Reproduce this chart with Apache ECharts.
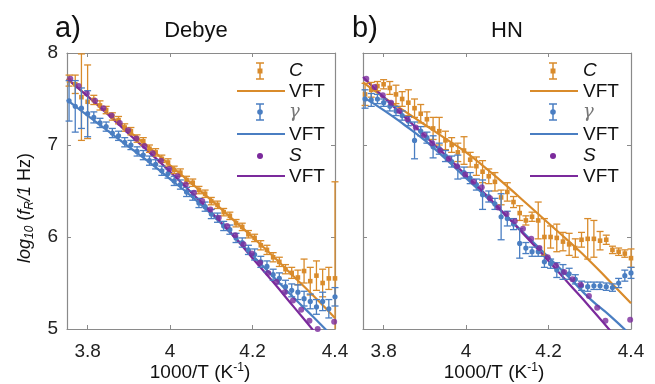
<!DOCTYPE html>
<html><head><meta charset="utf-8">
<script src="https://cdn.jsdelivr.net/npm/echarts@6/dist/echarts.min.js"></script>
<style>html,body{margin:0;padding:0;background:#fff}#c{width:655px;height:384px}</style>
</head><body><div id="c"></div>
<script>
// shared temperatures (1000/T) for C and gamma series
const cX = [3.755,3.770,3.785,3.800,3.815,3.830,3.845,3.860,3.875,3.890,3.905,3.920,3.935,3.950,3.965,3.980,3.995,4.010,4.025,4.040,4.055,4.070,4.085,4.100,4.115,4.130,4.145,4.160,4.175,4.190,4.205,4.220,4.235,4.250,4.265,4.280,4.295,4.310,4.325,4.340,4.355,4.370,4.385,4.400];
// S series temperatures
const sX = [3.758,3.778,3.798,3.818,3.838,3.858,3.878,3.898,3.918,3.938,3.958,3.978,3.998,4.018,4.038,4.058,4.078,4.098,4.118,4.138,4.158,4.178,4.198,4.218,4.238,4.258,4.278,4.298,4.318,4.338,4.358,4.378,4.398];
// VFT curve sample temperatures
const vX = [3.75,3.80,3.85,3.90,3.95,4.00,4.05,4.10,4.15,4.20,4.25,4.30,4.35,4.40];

// Panel a (Debye)
const aC  = [7.70,7.66,7.52,7.47,7.49,7.43,7.38,7.31,7.27,7.19,7.15,7.07,7.04,6.96,6.92,6.85,6.81,6.73,6.70,6.62,6.59,6.51,6.47,6.39,6.35,6.27,6.23,6.15,6.11,6.03,5.99,5.91,5.86,5.78,5.73,5.65,5.61,5.56,5.63,5.52,5.58,5.50,5.55,5.55];
const aCe = [0.06,0.10,0.47,0.40,0.05,0.05,0.04,0.04,0.04,0.04,0.04,0.04,0.04,0.04,0.04,0.04,0.04,0.04,0.04,0.04,0.04,0.04,0.04,0.04,0.04,0.04,0.04,0.04,0.04,0.04,0.04,0.05,0.05,0.05,0.05,0.05,0.06,0.08,0.13,0.15,0.16,0.15,0.12,1.05];
const aG  = [7.48,7.42,7.40,7.34,7.30,7.24,7.20,7.13,7.10,7.03,7.00,6.93,6.89,6.83,6.79,6.72,6.69,6.61,6.57,6.49,6.45,6.37,6.33,6.25,6.21,6.12,6.08,5.99,5.94,5.86,5.81,5.73,5.68,5.59,5.55,5.46,5.42,5.40,5.33,5.30,5.24,5.30,5.22,5.35];
const aGe = [0.22,0.28,0.22,0.25,0.06,0.05,0.05,0.05,0.05,0.05,0.05,0.05,0.05,0.05,0.05,0.05,0.05,0.05,0.05,0.05,0.05,0.05,0.05,0.05,0.05,0.05,0.05,0.05,0.05,0.05,0.06,0.06,0.06,0.06,0.06,0.07,0.07,0.08,0.08,0.08,0.08,0.10,0.10,0.10];
const aS  = [7.72,7.64,7.56,7.48,7.40,7.32,7.24,7.16,7.07,6.99,6.91,6.83,6.74,6.66,6.57,6.48,6.39,6.30,6.21,6.12,6.02,5.92,5.82,5.72,5.61,5.51,5.40,5.31,5.21,5.09,5.00,null,5.08];
const aCv = [7.72,7.53,7.34,7.15,6.97,6.78,6.59,6.40,6.20,6.00,5.79,5.57,5.35,5.12];
const aGv = [7.49,7.32,7.15,6.98,6.81,6.63,6.45,6.25,6.03,5.80,5.57,5.34,5.12,4.89];
const aSv = [7.72,7.53,7.33,7.12,6.92,6.71,6.49,6.27,6.03,5.77,5.51,5.24,4.97,4.69];

// Panel b (HN)
const bC  = [7.55,7.60,7.64,7.66,7.62,7.55,7.50,7.46,7.40,7.34,7.28,7.18,7.15,7.05,7.00,6.92,6.94,6.84,6.77,6.71,6.66,6.60,6.43,6.49,6.38,6.26,6.18,6.22,6.18,6.00,6.00,5.99,5.95,5.92,5.88,5.97,5.98,5.98,5.96,5.97,5.86,5.84,5.82,5.77];
const bCe = [0.12,0.08,0.05,0.05,0.07,0.10,0.08,0.14,0.10,0.10,0.08,0.12,0.15,0.10,0.08,0.10,0.15,0.08,0.10,0.12,0.08,0.10,0.08,0.10,0.06,0.08,0.05,0.05,0.20,0.20,0.12,0.15,0.10,0.12,0.10,0.08,0.22,0.20,0.10,0.05,0.04,0.04,0.04,0.10];
const bG  = [7.50,7.49,7.50,7.46,7.42,7.37,7.32,7.26,7.05,7.15,7.08,6.98,6.96,6.88,6.82,6.76,6.70,6.64,6.57,6.46,6.44,6.36,6.22,6.20,6.14,5.93,5.88,5.84,5.84,5.73,5.71,5.64,5.62,5.60,5.54,5.47,5.46,5.47,5.47,5.46,5.45,5.50,5.58,5.61];
const bGe = [0.10,0.07,0.05,0.04,0.05,0.05,0.05,0.05,0.20,0.05,0.06,0.12,0.06,0.06,0.06,0.13,0.06,0.06,0.06,0.16,0.06,0.06,0.25,0.08,0.06,0.16,0.06,0.05,0.05,0.06,0.05,0.08,0.08,0.06,0.05,0.05,0.05,0.04,0.04,0.04,0.04,0.05,0.06,0.06];
const bS  = [7.72,7.63,7.54,7.46,7.37,7.28,7.19,7.11,7.02,6.94,6.85,6.77,6.68,6.60,6.54,6.42,6.32,6.25,6.17,6.09,5.98,5.88,5.78,5.69,5.62,5.54,5.48,5.36,5.23,5.09,4.99,null,5.10];
const bCv = [7.68,7.52,7.37,7.22,7.07,6.92,6.74,6.55,6.35,6.15,5.95,5.74,5.51,5.28];
const bGv = [7.52,7.38,7.22,7.05,6.85,6.64,6.43,6.22,6.00,5.78,5.56,5.33,5.14,4.93];
const bSv = [7.74,7.52,7.31,7.10,6.89,6.67,6.45,6.22,5.98,5.74,5.49,5.24,4.98,4.72];

const xTicks = [3.8, 4.0, 4.2, 4.4];

const OR = '#d98b2b', BL = '#4a7ec2', PU = '#7b2a9c';
const AX = '#8a8a8a';
const FONT = 'Liberation Sans, Arial, sans-serif';

const chart = echarts.init(document.getElementById('c'), null, {renderer: 'canvas'});

function errItem(color, mk) {
  return function (params, api) {
    const x = api.value(0), y = api.value(1), e = api.value(2);
    const cs = params.coordSys;
    const p = api.coord([x, y]);
    const t = api.coord([x, y + e]);
    const b = api.coord([x, y - e]);
    const yTop = cs.y, yBot = cs.y + cs.height;
    const st = {stroke: color, lineWidth: 1.3};
    const ch = [];
    const y1 = Math.max(t[1], yTop), y2 = Math.min(b[1], yBot);
    if (y2 > y1) ch.push({type: 'line', shape: {x1: p[0], y1: y1, x2: p[0], y2: y2}, style: st});
    const cw = 3.5;
    if (t[1] >= yTop && t[1] <= yBot) ch.push({type: 'line', shape: {x1: p[0] - cw, y1: t[1], x2: p[0] + cw, y2: t[1]}, style: st});
    if (b[1] <= yBot && b[1] >= yTop) ch.push({type: 'line', shape: {x1: p[0] - cw, y1: b[1], x2: p[0] + cw, y2: b[1]}, style: st});
    if (p[1] >= yTop && p[1] <= yBot) {
      if (mk === 'sq') ch.push({type: 'rect', shape: {x: p[0] - 2.3, y: p[1] - 2.3, width: 4.6, height: 4.6}, style: {fill: color}});
      else ch.push({type: 'circle', shape: {cx: p[0], cy: p[1], r: 2.6}, style: {fill: color}});
    }
    return {type: 'group', children: ch};
  };
}

function axisPair(gi) {
  const common = {
    type: 'value', gridIndex: gi, min: 3.75, max: 4.4,
    axisLine: {show: true, lineStyle: {color: AX, width: 1.2}},
    axisTick: {show: true, inside: true, length: 4, lineStyle: {color: AX}, customValues: xTicks},
    splitLine: {show: false}
  };
  return [
    Object.assign({}, common, {position: 'bottom',
      axisLabel: {show: true, customValues: xTicks, margin: 13, color: '#222', fontSize: 19, fontFamily: FONT,
        formatter: v => (Math.abs(v - 4) < 1e-9 ? '4' : v.toFixed(1))}}),
    Object.assign({}, common, {position: 'top', axisLabel: {show: false}})
  ];
}
function yPair(gi, labels) {
  const common = {
    type: 'value', gridIndex: gi, min: 5, max: 8, interval: 1,
    axisLine: {show: true, lineStyle: {color: AX, width: 1.2}},
    axisTick: {show: true, inside: true, length: 4, lineStyle: {color: AX}},
    splitLine: {show: false}
  };
  return [
    Object.assign({}, common, {position: 'left',
      axisLabel: {show: labels, margin: 9, color: '#222', fontSize: 19, fontFamily: FONT}}),
    Object.assign({}, common, {position: 'right', axisLabel: {show: false}})
  ];
}

function panelSeries(xi, yi, C, Ce, G, Ge, S, Cv, Gv, Sv) {
  const line = (vals, color) => ({
    type: 'line', xAxisIndex: xi, yAxisIndex: yi, smooth: true, showSymbol: false, clip: true,
    data: vX.map((x, i) => [x, vals[i]]), lineStyle: {color: color, width: 2.2}, z: 3, silent: true
  });
  return [
    line(Cv, OR), line(Gv, BL), line(Sv, PU),
    {type: 'custom', xAxisIndex: xi, yAxisIndex: yi, renderItem: errItem(OR, 'sq'),
      data: cX.map((x, i) => [x, C[i], Ce[i]]), z: 4, silent: true},
    {type: 'custom', xAxisIndex: xi, yAxisIndex: yi, renderItem: errItem(BL, 'ci'),
      data: cX.map((x, i) => [x, G[i], Ge[i]]), z: 5, silent: true},
    {type: 'scatter', xAxisIndex: xi, yAxisIndex: yi, symbol: 'circle', symbolSize: 6,
      itemStyle: {color: PU}, data: sX.map((x, i) => [x, S[i]]).filter(d => d[1] != null), z: 6, clip: true, silent: true}
  ];
}

function legend(xc, x1, x2, xt) {
  const g = [];
  const errIcon = (y, color, sq) => {
    g.push({type: 'line', shape: {x1: xc, y1: y - 8, x2: xc, y2: y + 8}, style: {stroke: color, lineWidth: 1.5}});
    g.push({type: 'line', shape: {x1: xc - 4, y1: y - 8, x2: xc + 4, y2: y - 8}, style: {stroke: color, lineWidth: 1.5}});
    g.push({type: 'line', shape: {x1: xc - 4, y1: y + 8, x2: xc + 4, y2: y + 8}, style: {stroke: color, lineWidth: 1.5}});
    if (sq) g.push({type: 'rect', shape: {x: xc - 2.5, y: y - 2.5, width: 5, height: 5}, style: {fill: color}});
    else g.push({type: 'circle', shape: {cx: xc, cy: y, r: 2.8}, style: {fill: color}});
  };
  const lineIcon = (y, color) => g.push({type: 'line', shape: {x1: x1, y1: y, x2: x2, y2: y}, style: {stroke: color, lineWidth: 2.2}});
  const txt = (y, s, style) => g.push({type: 'text', x: xt, y: y, style: Object.assign({text: s, fontSize: 19, fontFamily: FONT, fill: '#111', verticalAlign: 'middle', align: 'left'}, style || {})});
  errIcon(71, OR, true); txt(71, 'C', {fontStyle: 'italic'});
  lineIcon(91, OR); txt(92, 'VFT');
  errIcon(112, BL, false); txt(112, 'γ', {fontStyle: 'italic', fill: '#777', fontFamily: 'DejaVu Serif, serif', fontSize: 18});
  lineIcon(134, BL); txt(135, 'VFT');
  g.push({type: 'circle', shape: {cx: xc, cy: 156, r: 3}, style: {fill: PU}}); txt(156, 'S', {fontStyle: 'italic'});
  lineIcon(176, PU); txt(177, 'VFT');
  return g;
}

const xTitle = {
  text: '{n|1000/T (K}{s|-1}{n|)}', align: 'center', verticalAlign: 'middle',
  rich: {n: {fontSize: 19, fontFamily: FONT, fill: '#111'}, s: {fontSize: 12, fontFamily: FONT, fill: '#111', verticalAlign: 'top', padding: [0, 0, 10, 0]}}
};

const graphics = [].concat(
  [
    {type: 'text', x: 55, y: 29, style: {text: 'a)', fontSize: 29, fontFamily: FONT, fill: '#111', verticalAlign: 'middle'}},
    {type: 'text', x: 196, y: 31, style: {text: 'Debye', fontSize: 22, fontFamily: FONT, fill: '#111', align: 'center', verticalAlign: 'middle'}},
    {type: 'text', x: 352, y: 29, style: {text: 'b)', fontSize: 29, fontFamily: FONT, fill: '#111', verticalAlign: 'middle'}},
    {type: 'text', x: 507, y: 31, style: {text: 'HN', fontSize: 22, fontFamily: FONT, fill: '#111', align: 'center', verticalAlign: 'middle'}},
    {type: 'text', x: 200, y: 373, style: Object.assign({}, xTitle)},
    {type: 'text', x: 494, y: 373, style: Object.assign({}, xTitle)},
    {type: 'text', x: 25, y: 263, rotation: Math.PI / 2, style: {
      text: '{i|log}{b|10}{n| (}{i|f}{b|R}{i|/1}{n| Hz)}', align: 'left', verticalAlign: 'middle',
      rich: {i: {fontSize: 18, fontStyle: 'italic', fontFamily: FONT, fill: '#111'},
             n: {fontSize: 18, fontFamily: FONT, fill: '#111'},
             b: {fontSize: 12, fontStyle: 'italic', fontFamily: FONT, fill: '#111', padding: [10, 0, 0, 0]}}}}
  ],
  legend(260, 237, 285, 289),
  legend(553, 530, 578, 583)
);

const xa = axisPair(0).concat(axisPair(1));
const ya = yPair(0, true).concat(yPair(1, false));

chart.setOption({
  backgroundColor: '#fff',
  animation: false,
  grid: [
    {left: 67, top: 53, width: 268, height: 276},
    {left: 363, top: 53, width: 268, height: 276}
  ],
  xAxis: xa,
  yAxis: ya,
  series: [].concat(
    panelSeries(0, 0, aC, aCe, aG, aGe, aS, aCv, aGv, aSv),
    panelSeries(2, 2, bC, bCe, bG, bGe, bS, bCv, bGv, bSv)
  ),
  graphic: graphics
});
</script>
</body></html>
